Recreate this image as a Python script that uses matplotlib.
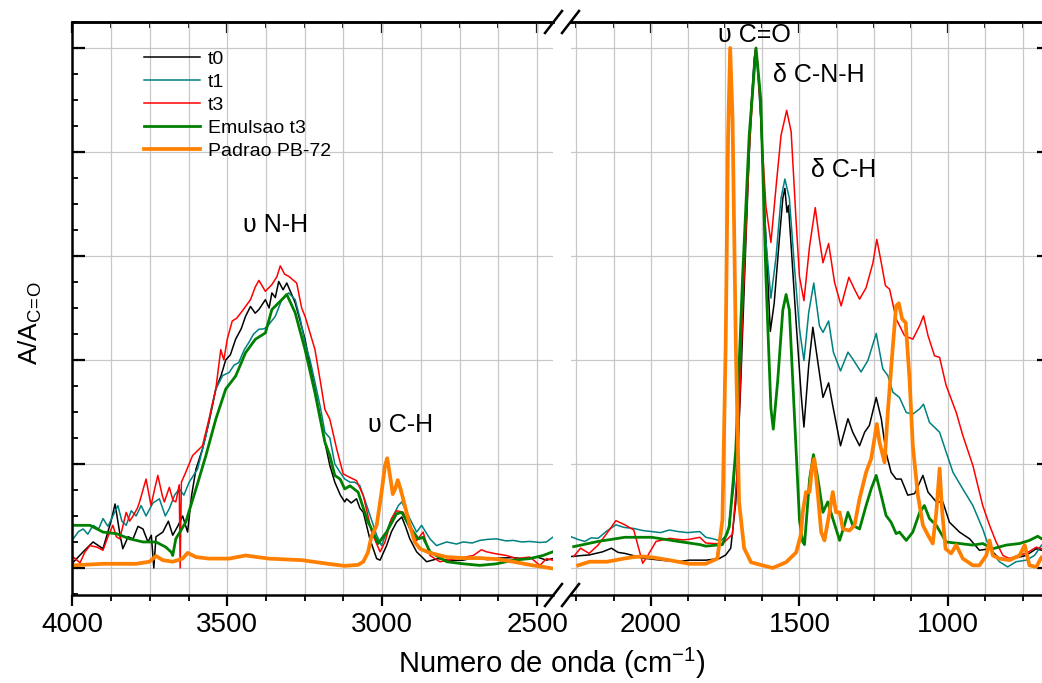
import matplotlib
matplotlib.use('Agg')
import matplotlib.pyplot as plt
from matplotlib.lines import Line2D
from matplotlib.ticker import MultipleLocator, NullFormatter

plt.rcParams['font.family'] = ['Liberation Sans', 'DejaVu Sans']

# ---- data (wavenumber cm-1, A/A_C=O), split at the axis break ----
t0_left_x = [3997, 3965, 3933, 3901, 3875, 3862, 3845, 3837, 3820, 3804, 3788, 3772, 3756, 3745, 3737,
             3730, 3708, 3690, 3676, 3660, 3644, 3628, 3615, 3601, 3580, 3559, 3537, 3520, 3505, 3490,
             3473, 3455, 3441, 3425, 3410, 3398, 3377, 3365, 3356, 3345, 3334, 3320, 3308, 3295, 3281,
             3265, 3249, 3233, 3217, 3200, 3185, 3169, 3153, 3135, 3121, 3115, 3100, 3083, 3072, 3061,
             3040, 3018, 3007, 2986, 2970, 2954, 2937, 2925, 2911, 2889, 2870, 2857, 2820, 2780, 2739,
             2700, 2660, 2620, 2577, 2540, 2500, 2470, 2450]
t0_left_y = [0.011, 0.031, 0.05, 0.037, 0.09, 0.123, 0.06, 0.037, 0.06, 0.056, 0.08, 0.075, 0.05, 0.063, 0.0,
             0.06, 0.069, 0.09, 0.063, 0.08, 0.10, 0.069, 0.14, 0.19, 0.229, 0.28, 0.344, 0.37, 0.40, 0.41,
             0.44, 0.46, 0.484, 0.503, 0.49, 0.497, 0.516, 0.50, 0.529, 0.52, 0.551, 0.535, 0.548, 0.53, 0.51,
             0.475, 0.44, 0.39, 0.344, 0.29, 0.242, 0.197, 0.165, 0.14, 0.127, 0.133, 0.125, 0.133, 0.115, 0.107,
             0.056, 0.018, 0.015, 0.043, 0.07, 0.088, 0.098, 0.08, 0.056, 0.031, 0.02, 0.012, 0.018, 0.014, 0.015,
             0.02, 0.016, 0.019, 0.02, 0.017, 0.021, 0.015, 0.018]
t0_right_x = [2268, 2230, 2207, 2162, 2132, 2110, 2087, 2060, 2027, 1967, 1907, 1871, 1815, 1770, 1748,
              1731, 1714, 1697, 1680, 1663, 1652, 1647, 1635, 1618, 1607, 1598, 1585, 1568, 1556, 1549,
              1542, 1537, 1528, 1511, 1494, 1485, 1469, 1455, 1438, 1421, 1402, 1388, 1362, 1337, 1321,
              1298, 1281, 1265, 1242, 1225, 1209, 1192, 1175, 1158, 1136, 1113, 1085, 1068, 1040, 1018,
              996, 962, 928, 895, 861, 828, 783, 738, 704, 686, 678]
t0_right_y = [0.022, 0.024, 0.025, 0.031, 0.038, 0.03, 0.028, 0.024, 0.019, 0.015, 0.012, 0.015, 0.015, 0.018, 0.025,
              0.038, 0.126, 0.361, 0.63, 0.886, 0.98, 1.0, 0.933, 0.697, 0.563, 0.455, 0.509, 0.63, 0.711, 0.73,
              0.684, 0.697, 0.62, 0.47, 0.331, 0.271, 0.389, 0.463, 0.395, 0.328, 0.356, 0.312, 0.235, 0.287, 0.261,
              0.235, 0.261, 0.274, 0.328, 0.287, 0.222, 0.184, 0.171, 0.171, 0.14, 0.143, 0.178, 0.146, 0.127, 0.127,
              0.088, 0.069, 0.056, 0.034, 0.037, 0.018, 0.018, 0.024, 0.037, 0.034, 0.036]

t1_left_x = [3997, 3980, 3965, 3950, 3933, 3915, 3901, 3885, 3869, 3853, 3840, 3826, 3810, 3794, 3778,
             3762, 3740, 3719, 3700, 3687, 3670, 3655, 3640, 3623, 3596, 3569, 3550, 3537, 3515, 3494,
             3478, 3463, 3445, 3431, 3415, 3398, 3380, 3366, 3345, 3324, 3302, 3281, 3265, 3249, 3233,
             3217, 3200, 3185, 3169, 3153, 3136, 3121, 3104, 3089, 3072, 3050, 3018, 3002, 2975, 2948,
             2937, 2911, 2889, 2873, 2846, 2825, 2792, 2760, 2739, 2710, 2685, 2660, 2631, 2600, 2577,
             2550, 2524, 2490, 2470, 2450]
t1_left_y = [0.056, 0.07, 0.075, 0.065, 0.082, 0.075, 0.095, 0.08, 0.10, 0.12, 0.09, 0.082, 0.11, 0.10, 0.12,
             0.10, 0.125, 0.133, 0.10, 0.114, 0.14, 0.152, 0.14, 0.165, 0.19, 0.254, 0.31, 0.344, 0.37, 0.376,
             0.39, 0.395, 0.42, 0.433, 0.45, 0.459, 0.46, 0.468, 0.484, 0.516, 0.529, 0.516, 0.48, 0.433, 0.40,
             0.357, 0.31, 0.261, 0.25, 0.20, 0.184, 0.171, 0.165, 0.165, 0.158, 0.12, 0.063, 0.043, 0.088, 0.12,
             0.127, 0.095, 0.069, 0.082, 0.056, 0.043, 0.05, 0.046, 0.05, 0.048, 0.053, 0.055, 0.056, 0.052, 0.053,
             0.05, 0.051, 0.049, 0.05, 0.059]
t1_right_x = [2268, 2245, 2222, 2200, 2177, 2150, 2117, 2090, 2057, 2027, 1997, 1967, 1937, 1907, 1877,
              1835, 1815, 1790, 1765, 1742, 1720, 1697, 1675, 1652, 1646, 1630, 1613, 1596, 1579, 1562,
              1549, 1534, 1517, 1500, 1485, 1469, 1452, 1433, 1421, 1402, 1386, 1362, 1337, 1321, 1293,
              1270, 1242, 1220, 1203, 1186, 1164, 1141, 1119, 1096, 1083, 1063, 1029, 1007, 984, 951,
              917, 884, 861, 828, 800, 772, 738, 710, 686, 678]
t1_right_y = [0.06, 0.055, 0.051, 0.058, 0.057, 0.07, 0.083, 0.078, 0.076, 0.072, 0.07, 0.068, 0.073, 0.07, 0.068,
              0.07, 0.059, 0.056, 0.052, 0.065, 0.159, 0.428, 0.731, 0.98, 1.0, 0.865, 0.63, 0.519, 0.597, 0.711,
              0.748, 0.711, 0.58, 0.46, 0.399, 0.491, 0.548, 0.466, 0.453, 0.475, 0.415, 0.379, 0.415, 0.402, 0.377,
              0.399, 0.451, 0.383, 0.37, 0.338, 0.328, 0.299, 0.296, 0.306, 0.315, 0.28, 0.261, 0.223, 0.184, 0.152,
              0.12, 0.075, 0.037, 0.012, 0.002, 0.012, 0.015, 0.024, 0.044, 0.048]

t3_left_x = [3997, 3975, 3960, 3943, 3920, 3901, 3885, 3869, 3858, 3847, 3826, 3815, 3804, 3790, 3783,
             3762, 3746, 3735, 3724, 3710, 3703, 3687, 3675, 3666, 3655, 3652, 3648, 3634, 3612, 3580,
             3559, 3537, 3521, 3511, 3500, 3484, 3470, 3452, 3425, 3410, 3398, 3377, 3356, 3340, 3329,
             3315, 3302, 3276, 3260, 3249, 3217, 3200, 3185, 3169, 3147, 3126, 3104, 3083, 3061, 3034,
             3007, 2991, 2970, 2954, 2932, 2911, 2889, 2868, 2846, 2814, 2760, 2706, 2680, 2663, 2631,
             2599, 2567, 2524, 2491, 2470, 2450]
t3_left_y = [0.021, 0.01, 0.03, 0.043, 0.04, 0.034, 0.06, 0.082, 0.06, 0.056, 0.107, 0.09, 0.10, 0.115, 0.127,
             0.171, 0.12, 0.15, 0.178, 0.14, 0.127, 0.155, 0.13, 0.127, 0.16, 0.0, 0.165, 0.184, 0.216, 0.235,
             0.286, 0.344, 0.42, 0.40, 0.44, 0.475, 0.48, 0.494, 0.516, 0.54, 0.553, 0.532, 0.545, 0.56, 0.581,
             0.565, 0.561, 0.548, 0.50, 0.484, 0.42, 0.36, 0.305, 0.286, 0.229, 0.181, 0.174, 0.168, 0.139, 0.069,
             0.031, 0.05, 0.095, 0.11, 0.107, 0.075, 0.053, 0.069, 0.024, 0.012, 0.018, 0.024, 0.035, 0.031, 0.027,
             0.024, 0.018, 0.021, 0.005, 0.018, 0.015]
t3_right_x = [2259, 2236, 2207, 2177, 2147, 2117, 2087, 2057, 2042, 2027, 2012, 1982, 1937, 1892, 1871,
              1835, 1815, 1759, 1725, 1708, 1691, 1669, 1649, 1647, 1641, 1630, 1613, 1596, 1579, 1562,
              1543, 1528, 1511, 1500, 1485, 1466, 1447, 1433, 1421, 1402, 1382, 1360, 1334, 1315, 1298,
              1276, 1253, 1240, 1225, 1211, 1197, 1175, 1147, 1119, 1096, 1083, 1068, 1046, 1029, 1007,
              973, 951, 917, 884, 861, 839, 816, 794, 766, 738, 704, 686, 678]
t3_right_y = [0.022, 0.038, 0.028, 0.044, 0.067, 0.091, 0.083, 0.073, 0.041, 0.009, 0.022, 0.051, 0.057, 0.054, 0.055,
              0.059, 0.048, 0.046, 0.065, 0.193, 0.496, 0.798, 0.987, 1.0, 0.973, 0.865, 0.697, 0.626, 0.731, 0.832,
              0.88, 0.839, 0.664, 0.56, 0.514, 0.619, 0.693, 0.632, 0.587, 0.624, 0.549, 0.504, 0.559, 0.536, 0.517,
              0.539, 0.587, 0.632, 0.587, 0.543, 0.536, 0.479, 0.447, 0.44, 0.466, 0.485, 0.447, 0.408, 0.405, 0.351,
              0.299, 0.255, 0.197, 0.12, 0.082, 0.05, 0.024, 0.018, 0.024, 0.028, 0.04, 0.037, 0.04]

emul_left_x = [4000, 3943, 3901, 3858, 3815, 3772, 3730, 3698, 3680, 3676, 3666, 3634, 3601, 3569, 3537,
               3505, 3473, 3441, 3409, 3377, 3356, 3324, 3308, 3281, 3249, 3217, 3185, 3169, 3153, 3136,
               3121, 3104, 3078, 3046, 3040, 3013, 2986, 2954, 2937, 2911, 2884, 2868, 2846, 2792, 2739,
               2685, 2631, 2577, 2524, 2481, 2450]
emul_left_y = [0.082, 0.082, 0.069, 0.066, 0.056, 0.05, 0.05, 0.04, 0.03, 0.024, 0.056, 0.088, 0.152, 0.216, 0.286,
               0.344, 0.369, 0.414, 0.44, 0.452, 0.497, 0.516, 0.526, 0.491, 0.42, 0.337, 0.242, 0.216, 0.178, 0.171,
               0.152, 0.158, 0.146, 0.088, 0.082, 0.047, 0.069, 0.104, 0.107, 0.079, 0.056, 0.059, 0.031, 0.012, 0.008,
               0.005, 0.008, 0.015, 0.018, 0.024, 0.031]
emul_right_x = [2259, 2177, 2087, 1997, 1907, 1871, 1835, 1815, 1759, 1736, 1714, 1691, 1669, 1646, 1630,
                1613, 1596, 1588, 1573, 1556, 1545, 1534, 1517, 1500, 1489, 1483, 1466, 1453, 1438, 1421,
                1405, 1388, 1365, 1349, 1337, 1321, 1298, 1276, 1259, 1242, 1225, 1209, 1192, 1175, 1164,
                1141, 1119, 1096, 1080, 1063, 1040, 1007, 962, 917, 884, 850, 805, 760, 727, 699, 686, 678]
emul_right_y = [0.041, 0.051, 0.059, 0.059, 0.051, 0.048, 0.045, 0.042, 0.045, 0.079, 0.227, 0.563, 0.832, 1.0, 0.9,
                0.563, 0.307, 0.267, 0.361, 0.496, 0.526, 0.496, 0.294, 0.092, 0.05, 0.045, 0.171, 0.218, 0.171, 0.107,
                0.127, 0.095, 0.053, 0.082, 0.107, 0.082, 0.075, 0.12, 0.152, 0.178, 0.139, 0.101, 0.088, 0.066, 0.069,
                0.053, 0.069, 0.107, 0.12, 0.095, 0.082, 0.05, 0.047, 0.044, 0.047, 0.037, 0.044, 0.047, 0.053, 0.061, 0.056, 0.06]

pb72_left_x = [4000, 3901, 3794, 3751, 3730, 3708, 3676, 3644, 3628, 3601, 3559, 3494, 3441, 3366, 3260,
               3174, 3121, 3078, 3061, 3046, 3035, 3018, 3002, 2991, 2984, 2975, 2966, 2958, 2950, 2941,
               2927, 2911, 2895, 2878, 2846, 2792, 2739, 2685, 2631, 2577, 2524, 2481, 2450]
pb72_left_y = [0.005, 0.008, 0.008, 0.012, 0.023, 0.015, 0.012, 0.018, 0.029, 0.021, 0.018, 0.018, 0.024, 0.018, 0.015,
               0.008, 0.004, 0.006, 0.012, 0.03, 0.06, 0.082, 0.146, 0.197, 0.211, 0.178, 0.142, 0.152, 0.169, 0.152,
               0.12, 0.082, 0.05, 0.037, 0.029, 0.021, 0.019, 0.019, 0.017, 0.012, 0.006, 0.002, -0.001]
pb72_right_x = [2244, 2206, 2147, 2090, 2057, 2027, 1990, 1937, 1871, 1815, 1776, 1759, 1748, 1740, 1733,
                1725, 1714, 1703, 1686, 1663, 1624, 1590, 1545, 1511, 1495, 1489, 1478, 1466, 1457, 1450,
                1438, 1427, 1416, 1399, 1388, 1377, 1365, 1354, 1332, 1315, 1298, 1276, 1259, 1248, 1240,
                1231, 1214, 1203, 1186, 1175, 1166, 1155, 1143, 1130, 1119, 1102, 1085, 1068, 1052, 1040,
                1029, 1020, 1009, 990, 973, 951, 917, 895, 872, 861, 850, 828, 794, 760, 743, 727, 704, 686, 678]
pb72_right_y = [0.005, 0.012, 0.012, 0.018, 0.021, 0.022, 0.02, 0.015, 0.008, 0.008, 0.018, 0.092, 0.43, 0.83, 1.0,
                0.865, 0.43, 0.126, 0.038, 0.011, 0.005, 0.0, 0.011, 0.03, 0.065, 0.107, 0.146, 0.146, 0.197, 0.21,
                0.14, 0.069, 0.053, 0.107, 0.146, 0.107, 0.107, 0.075, 0.072, 0.082, 0.133, 0.184, 0.21, 0.248, 0.277,
                0.242, 0.203, 0.30, 0.427, 0.504, 0.509, 0.479, 0.472, 0.363, 0.235, 0.14, 0.082, 0.063, 0.047, 0.107,
                0.191, 0.107, 0.037, 0.028, 0.044, 0.018, 0.005, 0.005, 0.024, 0.053, 0.024, 0.018, 0.015, 0.024, 0.044,
                0.005, 0.002, 0.021, 0.02]

series = [
    ('t0', t0_left_x, t0_left_y, t0_right_x, t0_right_y, 'black', 1.1),
    ('t1', t1_left_x, t1_left_y, t1_right_x, t1_right_y, '#008080', 1.1),
    ('t3', t3_left_x, t3_left_y, t3_right_x, t3_right_y, '#ff0000', 1.1),
    ('Emulsao t3', emul_left_x, emul_left_y, emul_right_x, emul_right_y, '#008000', 2.0),
    ('Padrao PB-72', pb72_left_x, pb72_left_y, pb72_right_x, pb72_right_y, '#ff8000', 2.7),
]

W, H = 1042, 683


def px_box(x0, x1, y0, y1):
    return [x0 / W, 1 - y1 / H, (x1 - x0) / W, (y1 - y0) / H]


fig = plt.figure(figsize=(W / 100, H / 100), dpi=100)
ax1 = fig.add_axes(px_box(72.3, 553, 22, 595))
ax2 = fig.add_axes(px_box(571, 1044, 22, 595))

for name, lx, ly, rx, ry, col, lw in series:
    ax1.plot(lx, ly, color=col, lw=lw, label=name)
    ax2.plot(rx, ry, color=col, lw=lw)

ax1.set_xlim(4000, 2449)
ax2.set_xlim(2268, 678)
grid_kw = dict(color='#c8c8c8', lw=0.9)
for ax in (ax1, ax2):
    ax.set_ylim(-0.052, 1.05)
    ax.set_axisbelow(True)
    ax.xaxis.set_major_locator(MultipleLocator(500))
    ax.xaxis.set_minor_locator(MultipleLocator(125))
    ax.yaxis.set_major_locator(MultipleLocator(0.2))
    ax.yaxis.set_minor_locator(MultipleLocator(0.05))
    ax.yaxis.set_major_formatter(NullFormatter())
    ax.grid(True, which='both', axis='x', **grid_kw)
    ax.grid(True, which='major', axis='y', **grid_kw)
    for sp in ax.spines.values():
        sp.set_linewidth(1.8)
    ax.tick_params(axis='x', which='major', direction='out', length=8, width=1.6,
                   labelsize=20, pad=4)
    ax.tick_params(axis='x', which='minor', direction='out', length=4.5, width=1.3)
    top = ax.secondary_xaxis('top')
    top.xaxis.set_major_locator(MultipleLocator(500))
    top.xaxis.set_minor_locator(MultipleLocator(125))
    top.xaxis.set_major_formatter(NullFormatter())
    top.tick_params(which='major', direction='in', length=8, width=1.6)
    top.tick_params(which='minor', direction='in', length=4.5, width=1.3)
    top.spines['top'].set_linewidth(1.8)

ax1.spines['right'].set_visible(False)
ax2.spines['left'].set_visible(False)
ax1.tick_params(axis='y', which='major', direction='in', left=True, right=False, length=9, width=1.6)
ax1.tick_params(axis='y', which='minor', direction='in', left=True, right=False, length=4.5, width=1.3)
ax2.tick_params(axis='y', which='both', left=False, right=True, direction='in')
ax2.tick_params(axis='y', which='major', length=5, width=1.6)
ax2.tick_params(axis='y', which='minor', length=0)

# axis break marks
for y0 in (22, 595):
    for x0 in (545, 562):
        fig.add_artist(Line2D([x0 / W, (x0 + 17) / W], [1 - (y0 + 11) / H, 1 - (y0 - 11) / H],
                              color='black', lw=1.8))

ann = dict(ha='center', va='center', fontsize=18)
ax1.text(3343, 0.66, 'υ N-H', **ann)
ax1.text(2940, 0.275, 'υ C-H', **ann)
ax2.text(1650, 1.025, 'υ C=O', **ann)
ax2.text(1434, 0.948, 'δ C-N-H', **ann)
ax2.text(1351, 0.765, 'δ C-H', **ann)

ax1.legend(loc='upper left', bbox_to_anchor=(144 / W, 1 - 50 / H), bbox_transform=fig.transFigure,
           frameon=False, fontsize=14, handlelength=2.9, handletextpad=0.4, labelspacing=0.28,
           borderpad=0, borderaxespad=0)

fig.text(30 / W, 1 - 323 / H, r'A/A$_{\mathregular{C}\!\mathregular{=}\!\mathregular{O}}$',
         rotation=90, ha='center', va='center', fontsize=19)
fig.text(552 / W, 1 - 663 / H, r'Numero de onda (cm$^{\mathregular{-1}}$)', ha='center', va='center', fontsize=21)

fig.savefig('out.png', dpi=100)
